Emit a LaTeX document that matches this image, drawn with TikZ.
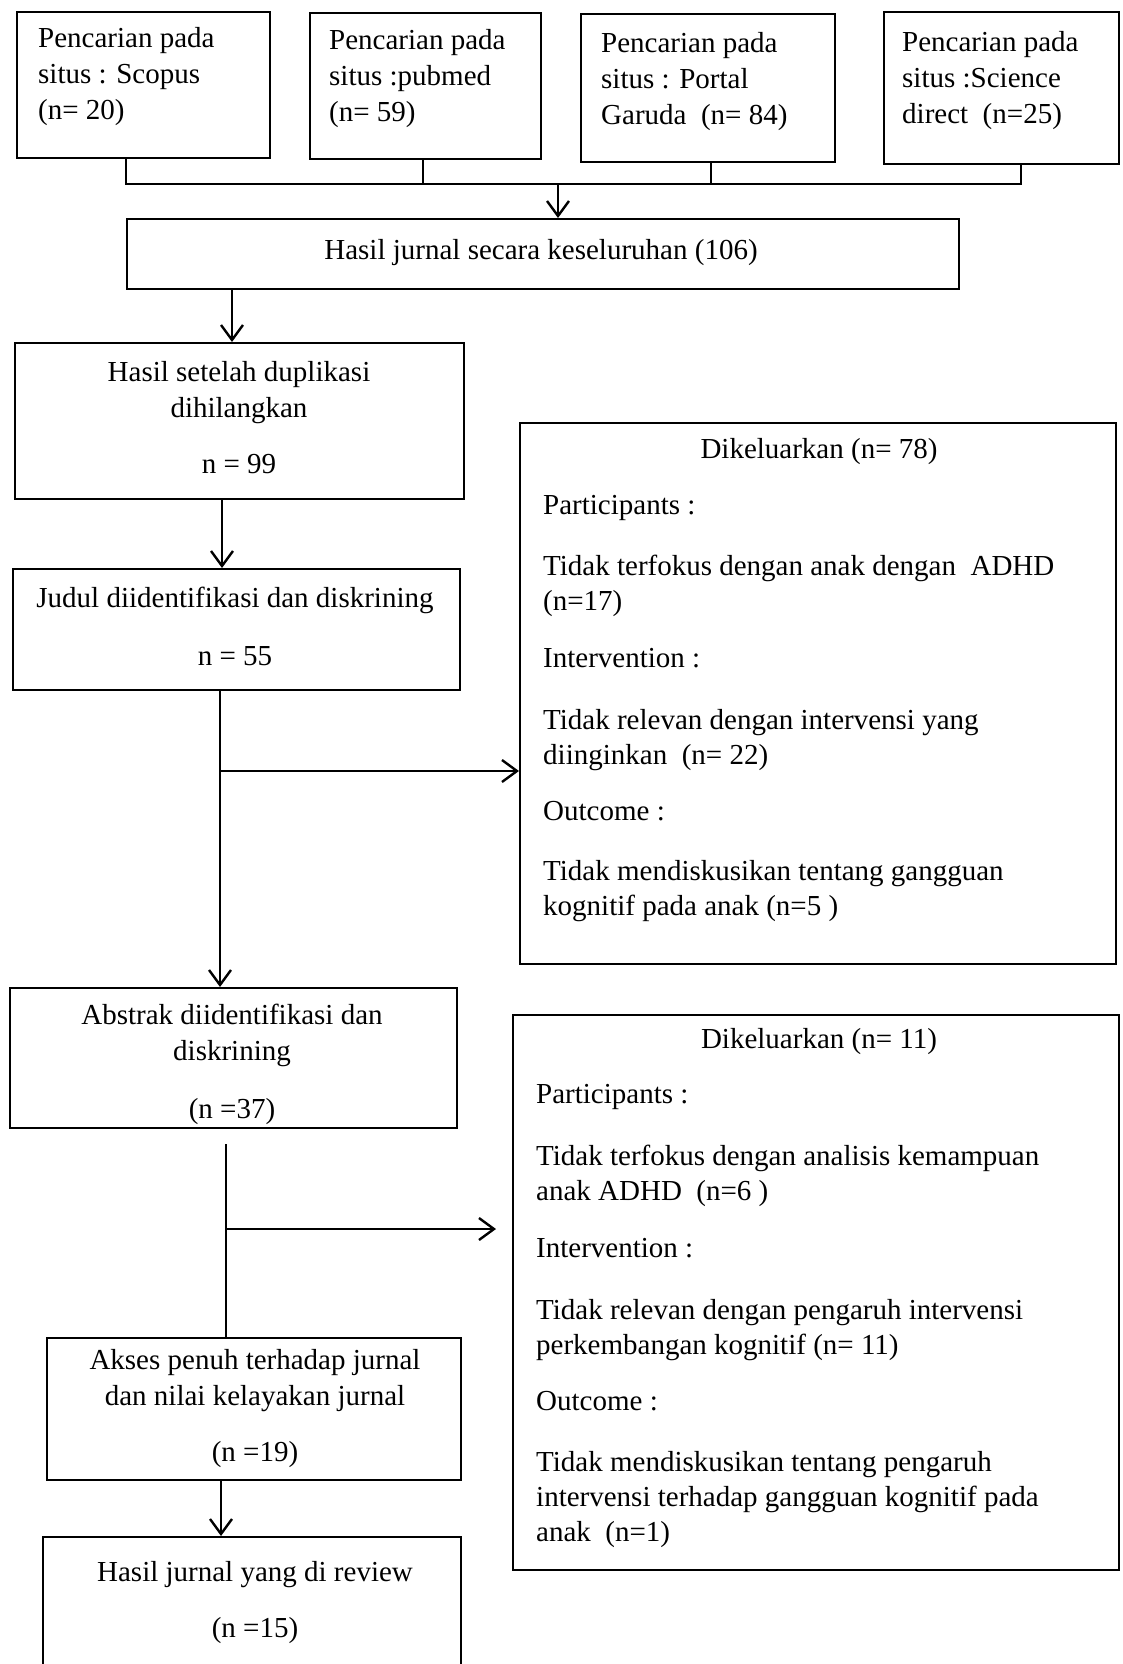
\documentclass[tikz,border=0pt]{standalone}
\usepackage{fontspec}
\setmainfont{Liberation Serif}
\usetikzlibrary{arrows.meta}
\begin{document}
\begin{tikzpicture}[x=1pt,y=-1pt,
  box/.style={draw, line width=2.4pt, anchor=north west, inner sep=0pt},
  conn/.style={line width=2.4pt},
  arr/.style={conn, -{Straight Barb[length=15pt,width=22pt]}},
  txt/.style={inner sep=0pt, font=\fontsize{29}{35}\selectfont},
  ltxt/.style={txt, align=left, anchor=west},
  ctxt/.style={txt, align=center, anchor=center},
  ]
\fill[white] (0,0) rectangle (1122,1664);
\useasboundingbox (0,0) rectangle (1122,1664);
\clip (0,0) rectangle (1122,1664);

% boxes
\node[box, minimum width=253pt, minimum height=146pt] (s1) at (16,11) {};
\node[box, minimum width=231pt, minimum height=146pt] (s2) at (309,12) {};
\node[box, minimum width=254pt, minimum height=148pt] (s3) at (580,13) {};
\node[box, minimum width=235pt, minimum height=152pt] (s4) at (883,11) {};
\node[box, minimum width=832pt, minimum height=70pt] (hasil) at (126,218) {};
\node[box, minimum width=449pt, minimum height=156pt] (dup) at (14,342) {};
\node[box, minimum width=447pt, minimum height=121pt] (judul) at (12,568) {};
\node[box, minimum width=596pt, minimum height=541pt] (ex1) at (519,422) {};
\node[box, minimum width=447pt, minimum height=140pt] (abs) at (9,987) {};
\node[box, minimum width=606pt, minimum height=555pt] (ex2) at (512,1014) {};
\node[box, minimum width=414pt, minimum height=142pt] (akses) at (46,1337) {};
\node[box, minimum width=418pt, minimum height=164pt] (rev) at (42,1536) {};

% texts
\node[ltxt, font=\fontsize{29}{36}\selectfont] (t1) at (38,77) {Pencarian pada\\situs : Scopus\\(n= 20)};
\node[ltxt, font=\fontsize{29}{36}\selectfont] (t2) at (329,79) {Pencarian pada\\situs :pubmed\\(n= 59)};
\node[ltxt, font=\fontsize{29}{36}\selectfont] (t3) at (601,82) {Pencarian pada\\situs : Portal\\Garuda\ \ (n= 84)};
\node[ltxt, font=\fontsize{29}{36}\selectfont] (t4) at (902,81) {Pencarian pada\\situs :Science\\direct\ \ (n=25)};
\node[ctxt] (th) at (541,253) {Hasil jurnal secara keseluruhan (106)};
\node[ctxt, font=\fontsize{29}{36}\selectfont] (td) at (239,418) {Hasil setelah duplikasi\\dihilangkan\\[20pt]n = 99};
\node[ctxt, font=\fontsize{29}{36}\selectfont] (tj) at (235,626) {Judul diidentifikasi dan diskrining\\[22pt]n = 55};
\node[ctxt, font=\fontsize{29}{36}\selectfont] (ta) at (232,1064) {Abstrak diidentifikasi dan\\diskrining\\[22pt](n =37)};
\node[ctxt, font=\fontsize{29}{36}\selectfont] (tk) at (255,1409) {Akses penuh terhadap jurnal\\dan nilai kelayakan jurnal\\[20pt](n =19)};
\node[ctxt, font=\fontsize{29}{36}\selectfont] (tr) at (255,1603) {Hasil jurnal yang di review\\[20pt](n =15)};

\node[ctxt] (e1t) at (819,452) {Dikeluarkan (n= 78)};
\node[ltxt] (e1b) at (543,709) {Participants :\\[26pt]
Tidak terfokus dengan anak dengan\ \ ADHD\\(n=17)\\[22pt]
Intervention :\\[27pt]
Tidak relevan dengan intervensi yang\\diinginkan\ \ (n= 22)\\[21pt]
Outcome :\\[25pt]
Tidak mendiskusikan tentang gangguan\\kognitif pada anak (n=5 )};

\node[ctxt] (e2t) at (819,1042) {Dikeluarkan (n= 11)};
\node[ltxt] (e2b) at (536,1316) {Participants :\\[27pt]
Tidak terfokus dengan analisis kemampuan\\anak ADHD\ \ (n=6 )\\[22pt]
Intervention :\\[27pt]
Tidak relevan dengan pengaruh intervensi\\perkembangan kognitif (n= 11)\\[21pt]
Outcome :\\[26pt]
Tidak mendiskusikan tentang pengaruh\\intervensi terhadap gangguan kognitif pada\\anak\ \ (n=1)};

% connectors
\coordinate (b1) at (126,184);
\coordinate (b2) at (423,184);
\coordinate (b3) at (711,184);
\coordinate (b4) at (1021,184);
\coordinate (bm) at (558,184);
\draw[conn] (s1.south -| b1) -- (b1) -- (b4) -- (s4.south -| b4);
\draw[conn] (s2.south -| b2) -- (b2);
\draw[conn] (s3.south -| b3) -- (b3);
\draw[arr] (bm) -- (hasil.north -| bm);

\coordinate (h1) at (232,300);
\draw[arr] (hasil.south -| h1) -- (dup.north -| h1);
\coordinate (d1) at (222,530);
\draw[arr] (dup.south -| d1) -- (judul.north -| d1);
\coordinate (j1) at (220,771);
\draw[arr] (judul.south -| j1) -- (abs.north -| j1);
\draw[arr] (j1) -- (ex1.west |- j1);

\coordinate (a0) at (226,1144);
\coordinate (a1) at (226,1229);
\coordinate (a2) at (496,1229);
\draw[conn] (a0) -- (akses.north -| a0);
\draw[arr] (a1) -- (a2);
\coordinate (k1) at (221,1500);
\draw[arr] (akses.south -| k1) -- (rev.north -| k1);
\end{tikzpicture}
\end{document}
